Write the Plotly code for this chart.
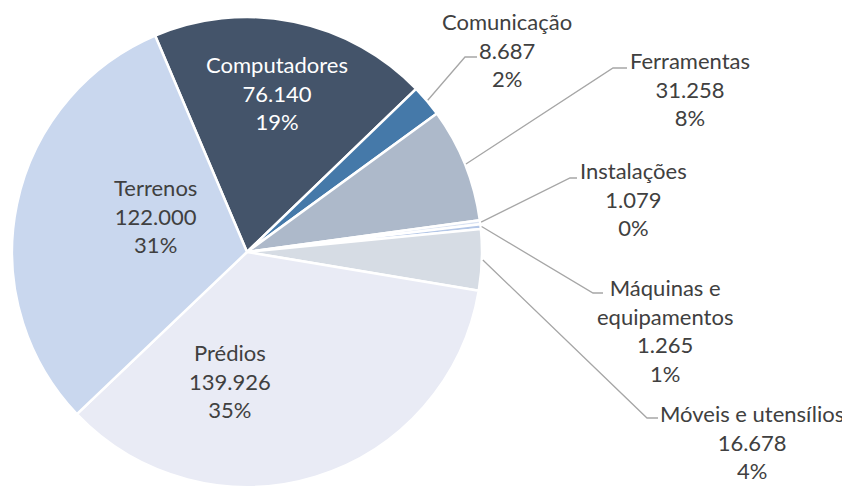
import math
import plotly.graph_objects as go

W, H = 850, 488
OFF = 8  # page body margin offset in the browser

categories = ["Computadores", "Comunicação", "Ferramentas", "Instalações",
              "Máquinas e<br>equipamentos", "Móveis e utensílios", "Prédios", "Terrenos"]
values = [76140, 8687, 31258, 1079, 1265, 16678, 139926, 122000]
pct_labels = ["19%", "2%", "8%", "0%", "1%", "4%", "35%", "31%"]
colors = ["#44546A", "#4579A9", "#ADB9CA", "#DAE3F3", "#B4C7E7", "#D6DCE4", "#E9EBF5", "#C9D7EE"]
text_colors = ["#FFFFFF", "#404040", "#404040", "#404040", "#404040", "#404040", "#404040", "#404040"]
# label block centres (px) and leader-line elbows (px); None = inside label
label_pos = [(277, 93), (507, 50), (690, 89), (633, 199), (665, 330), (752, 442), (230, 381), (155, 216)]
elbows = [None, ((465, 57), (477, 57)), ((613, 68), (627, 68)), ((570, 178), (577, 178)),
          ((593, 293), (603, 293)), ((647, 418), (658, 418)), None, None]

cx, cy, R = 247, 252, 235
rotation = -23

def px(x, y):
    return (x - OFF) / W, 1 - (y - OFF) / H

def fmt(v):
    return f"{v:,}".replace(",", ".")

d0 = px(cx - R, cy + R)
d1 = px(cx + R, cy - R)
fig = go.Figure(go.Pie(
    labels=categories, values=values, sort=False, direction="clockwise",
    rotation=rotation, textinfo="none", hoverinfo="label+value+percent",
    marker=dict(colors=colors, line=dict(color="#FFFFFF", width=2.5)),
    domain=dict(x=[d0[0], d1[0]], y=[d0[1], d1[1]]),
    showlegend=False,
))

total = sum(values)
ang = rotation
shapes = []
annotations = []
for i, v in enumerate(values):
    span = v / total * 360
    mid = math.radians(ang + span / 2)
    ang += span
    lx, ly = label_pos[i]
    x0, y0 = px(lx, ly)
    annotations.append(dict(
        x=x0, y=y0, xref="paper", yref="paper", xanchor="center", yanchor="middle",
        showarrow=False, align="center",
        text=f"{categories[i]}<br>{fmt(v)}<br>{pct_labels[i]}",
        font=dict(family="Lato", size=22, color=text_colors[i]),
    ))
    if elbows[i] is not None:
        sx, sy = cx + (R + 1) * math.sin(mid), cy - (R + 1) * math.cos(mid)
        pts = [(sx, sy), elbows[i][0], elbows[i][1]]
        path = "M " + " L ".join(f"{px(a, b)[0]},{px(a, b)[1]}" for a, b in pts)
        shapes.append(dict(type="path", xref="paper", yref="paper", path=path,
                           line=dict(color="#A6A6A6", width=1.3)))

fig.update_layout(
    width=W, height=H, margin=dict(l=0, r=0, t=0, b=0),
    paper_bgcolor="#FFFFFF", plot_bgcolor="#FFFFFF",
    shapes=shapes, annotations=annotations,
)
fig.write_html("out.html")
